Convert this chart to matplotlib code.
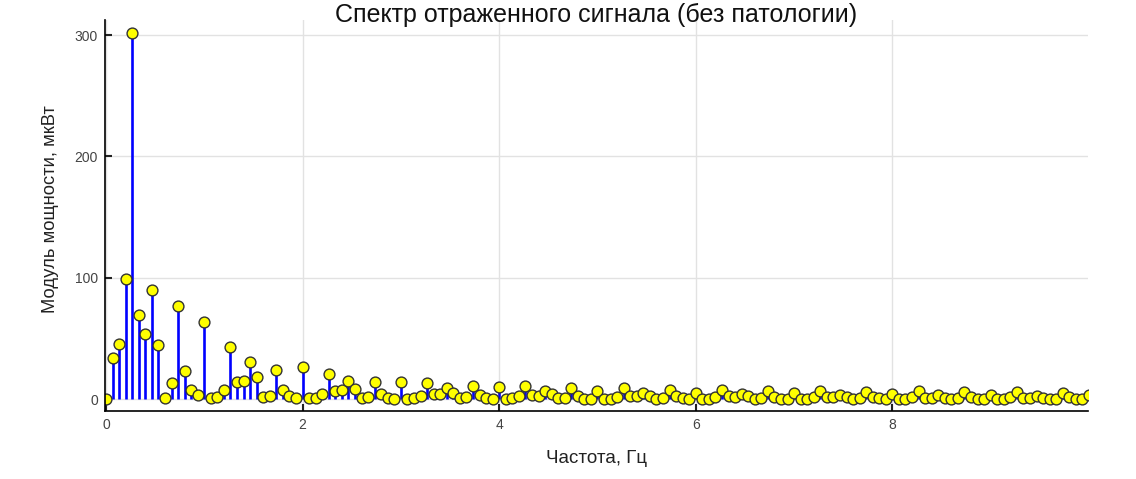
import matplotlib
matplotlib.use("Agg")
import matplotlib.pyplot as plt
import numpy as np

plt.rcParams['font.family'] = ['Liberation Sans', 'DejaVu Sans']

# шаг по частоте 1/15 Гц, 151 отсчёт
df = 1.0 / 15.0
power = [
    0.5, 33.8, 45.5, 98.8, 302.0, 69.7, 54.0, 90.0, 44.4, 1.4,
    13.4, 77.0, 23.3, 8.0, 3.8, 64.0, 1.0, 1.6, 8.0, 43.0,
    14.5, 14.8, 30.5, 18.6, 1.6, 3.0, 24.0, 7.4, 2.8, 1.0,
    26.8, 0.8, 0.8, 4.1, 20.6, 6.8, 7.4, 15.1, 8.7, 0.8,
    2.2, 14.5, 4.4, 1.1, 0.2, 14.5, 0.2, 0.8, 3.0, 13.7,
    4.6, 4.6, 9.6, 5.4, 0.8, 1.9, 11.0, 3.3, 0.8, 0.2,
    9.9, 0.2, 0.8, 2.7, 11.0, 3.3, 3.0, 6.5, 4.1, 0.8,
    1.4, 9.1, 2.7, 0.5, 0.2, 7.1, 0.2, 0.5, 1.9, 9.1,
    2.7, 2.5, 5.2, 3.0, 0.2, 1.1, 7.7, 2.5, 1.1, 0.2,
    5.5, 0.0, 0.5, 1.9, 7.7, 2.5, 2.2, 4.6, 2.5, 0.5,
    0.8, 7.1, 2.2, 0.5, 0.2, 4.9, 0.2, 0.5, 1.9, 7.1,
    2.2, 1.9, 3.8, 2.2, 0.2, 1.1, 6.3, 2.2, 0.8, 0.2,
    4.1, 0.0, 0.5, 1.9, 6.8, 1.4, 1.4, 3.3, 1.4, 0.0,
    0.8, 5.8, 1.9, 0.5, 0.2, 3.6, 0.0, 0.2, 1.6, 6.0,
    1.4, 1.4, 3.0, 1.4, 0.0, 0.5, 5.5, 1.6, 0.2, 0.0,
    3.3,
]
freq = np.arange(len(power)) * df

fig = plt.figure(figsize=(11.36, 4.79), dpi=100)
ax = fig.add_axes([105 / 1136, 1 - 411 / 479, (1088 - 105) / 1136, (411 - 20) / 479])

markerline, stemlines, baseline = ax.stem(freq, power, basefmt=' ')
plt.setp(stemlines, color='#0000ff', linewidth=1.9)
plt.setp(markerline, marker='o', markersize=7.8, markerfacecolor='#ffff00',
         markeredgecolor='#333333', markeredgewidth=1.0)

ax.set_xlim(-0.01, 9.99)
ax.set_ylim(-9.6, 312.4)
ax.set_xticks([0, 2, 4, 6, 8])
ax.set_yticks([0, 100, 200, 300])
ax.grid(True, color='#e2e2e2', linewidth=1.0)
ax.set_axisbelow(True)
for s in ['top', 'right']:
    ax.spines[s].set_visible(False)
for s in ['left', 'bottom']:
    ax.spines[s].set_linewidth(1.2)
ax.tick_params(direction='in', length=5, width=1.5, labelsize=10, colors='#222222', pad=5)
ax.tick_params(labelcolor='#444444')

fig.text(596.5 / 1136, 1 - 15 / 479, 'Спектр отраженного сигнала (без патологии)',
         fontsize=18, ha='center', va='center', color='#111111')
ax.set_xlabel('Частота, Гц', fontsize=13.5, labelpad=13, color='#222222')
ax.set_ylabel('Модуль мощности, мкВт', fontsize=13.2, color='#222222')
ax.yaxis.set_label_coords(-0.0463, (411 - 209) / 391)

fig.savefig('out.png', dpi=100)
